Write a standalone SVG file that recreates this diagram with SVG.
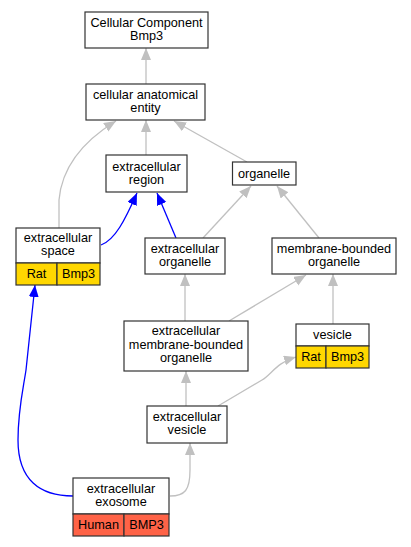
<svg xmlns="http://www.w3.org/2000/svg" width="411" height="547" viewBox="0 0 411 547">
<style>
text{font-family:"Liberation Sans",Arial,sans-serif;font-size:12.7px;fill:#000;text-anchor:middle}
.box{fill:#fff;stroke:#333;stroke-width:1.2}
.rat{fill:#ffd700;stroke:#333;stroke-width:1.2}
.hum{fill:#ff6347;stroke:#333;stroke-width:1.2}
.g{fill:none;stroke:#c0c0c0;stroke-width:1.3}
.b{fill:none;stroke:#0000ff;stroke-width:1.3}
</style>
<defs>
<marker id="ag" markerUnits="userSpaceOnUse" markerWidth="13" markerHeight="11" refX="12" refY="5" orient="auto"><path d="M0,0 L12,5 L0,10 z" fill="#c0c0c0"/></marker>
<marker id="ab" markerUnits="userSpaceOnUse" markerWidth="13" markerHeight="11" refX="12" refY="5" orient="auto"><path d="M0,0 L12,5 L0,10 z" fill="#0000ff"/></marker>
</defs>
<rect width="411" height="547" fill="#fff"/>
<g id="edges">
<path class="g" d="M146,84 L146,48" marker-end="url(#ag)"/>
<path class="g" d="M146,155 L146,120" marker-end="url(#ag)"/>
<path class="g" d="M247,162 L174,121" marker-end="url(#ag)"/>
<path class="g" d="M59,228 L59,200 C62,165 85,140 116,121" marker-end="url(#ag)"/>
<path class="b" d="M101,245 C115,240 125,220 137,193" marker-end="url(#ab)"/>
<path class="b" d="M176,238 L157,193" marker-end="url(#ab)"/>
<path class="g" d="M203,238 L251,186" marker-end="url(#ag)"/>
<path class="g" d="M319,238 L277,186" marker-end="url(#ag)"/>
<path class="g" d="M185,321 L185,274" marker-end="url(#ag)"/>
<path class="g" d="M229,321 L306,275" marker-end="url(#ag)"/>
<path class="g" d="M333,324 L333,274" marker-end="url(#ag)"/>
<path class="g" d="M186,406 L186,371" marker-end="url(#ag)"/>
<path class="g" d="M218,406 L262,380 C272,374 276,363 296,357" marker-end="url(#ag)"/>
<path class="g" d="M170,496 C185,496 190,490 190,470 L190,443" marker-end="url(#ag)"/>
<path class="b" d="M73,496 C40,496 18,480 18,440 C18,410 23,390 26,370 L35,285" marker-end="url(#ab)"/>
</g>
<g id="n1"><rect class="box" x="85" y="12" width="123" height="36"/><text x="146.5" y="27">Cellular Component</text><text x="146.5" y="40">Bmp3</text></g>
<g id="n2"><rect class="box" x="86" y="84" width="119" height="36"/><text x="145.5" y="99">cellular anatomical</text><text x="145.5" y="112">entity</text></g>
<g id="n3"><rect class="box" x="106" y="155" width="81" height="37"/><text x="146.5" y="170.5">extracellular</text><text x="146.5" y="183.5">region</text></g>
<g id="n4"><rect class="box" x="232.5" y="162" width="63.5" height="23"/><text x="264" y="178">organelle</text></g>
<g id="n5"><rect class="box" x="16" y="228" width="84" height="35"/><text x="58" y="242">extracellular</text><text x="58" y="255">space</text><rect class="rat" x="16" y="263" width="41" height="22"/><rect class="rat" x="57" y="263" width="43" height="22"/><text x="36.5" y="278">Rat</text><text x="78.5" y="278">Bmp3</text></g>
<g id="n6"><rect class="box" x="145" y="238" width="80" height="36"/><text x="185" y="253">extracellular</text><text x="185" y="266">organelle</text></g>
<g id="n7"><rect class="box" x="272" y="238" width="124" height="36"/><text x="334" y="253">membrane-bounded</text><text x="334" y="266">organelle</text></g>
<g id="n8"><rect class="box" x="124" y="321" width="124" height="50"/><text x="186" y="335">extracellular</text><text x="186" y="349">membrane-bounded</text><text x="186" y="362">organelle</text></g>
<g id="n9"><rect class="box" x="296" y="324" width="73" height="22"/><text x="332.5" y="339">vesicle</text><rect class="rat" x="296" y="346" width="30" height="22"/><rect class="rat" x="326" y="346" width="43" height="22"/><text x="311" y="361">Rat</text><text x="347.5" y="361">Bmp3</text></g>
<g id="n10"><rect class="box" x="147" y="406" width="80" height="37"/><text x="187" y="421">extracellular</text><text x="187" y="434">vesicle</text></g>
<g id="n11"><rect class="box" x="73" y="478" width="96" height="36"/><text x="121" y="492.5">extracellular</text><text x="121" y="505.5">exosome</text><rect class="hum" x="73" y="514" width="51" height="22"/><rect class="hum" x="124" y="514" width="45" height="22"/><text x="98.5" y="529">Human</text><text x="146.5" y="529">BMP3</text></g>
</svg>
